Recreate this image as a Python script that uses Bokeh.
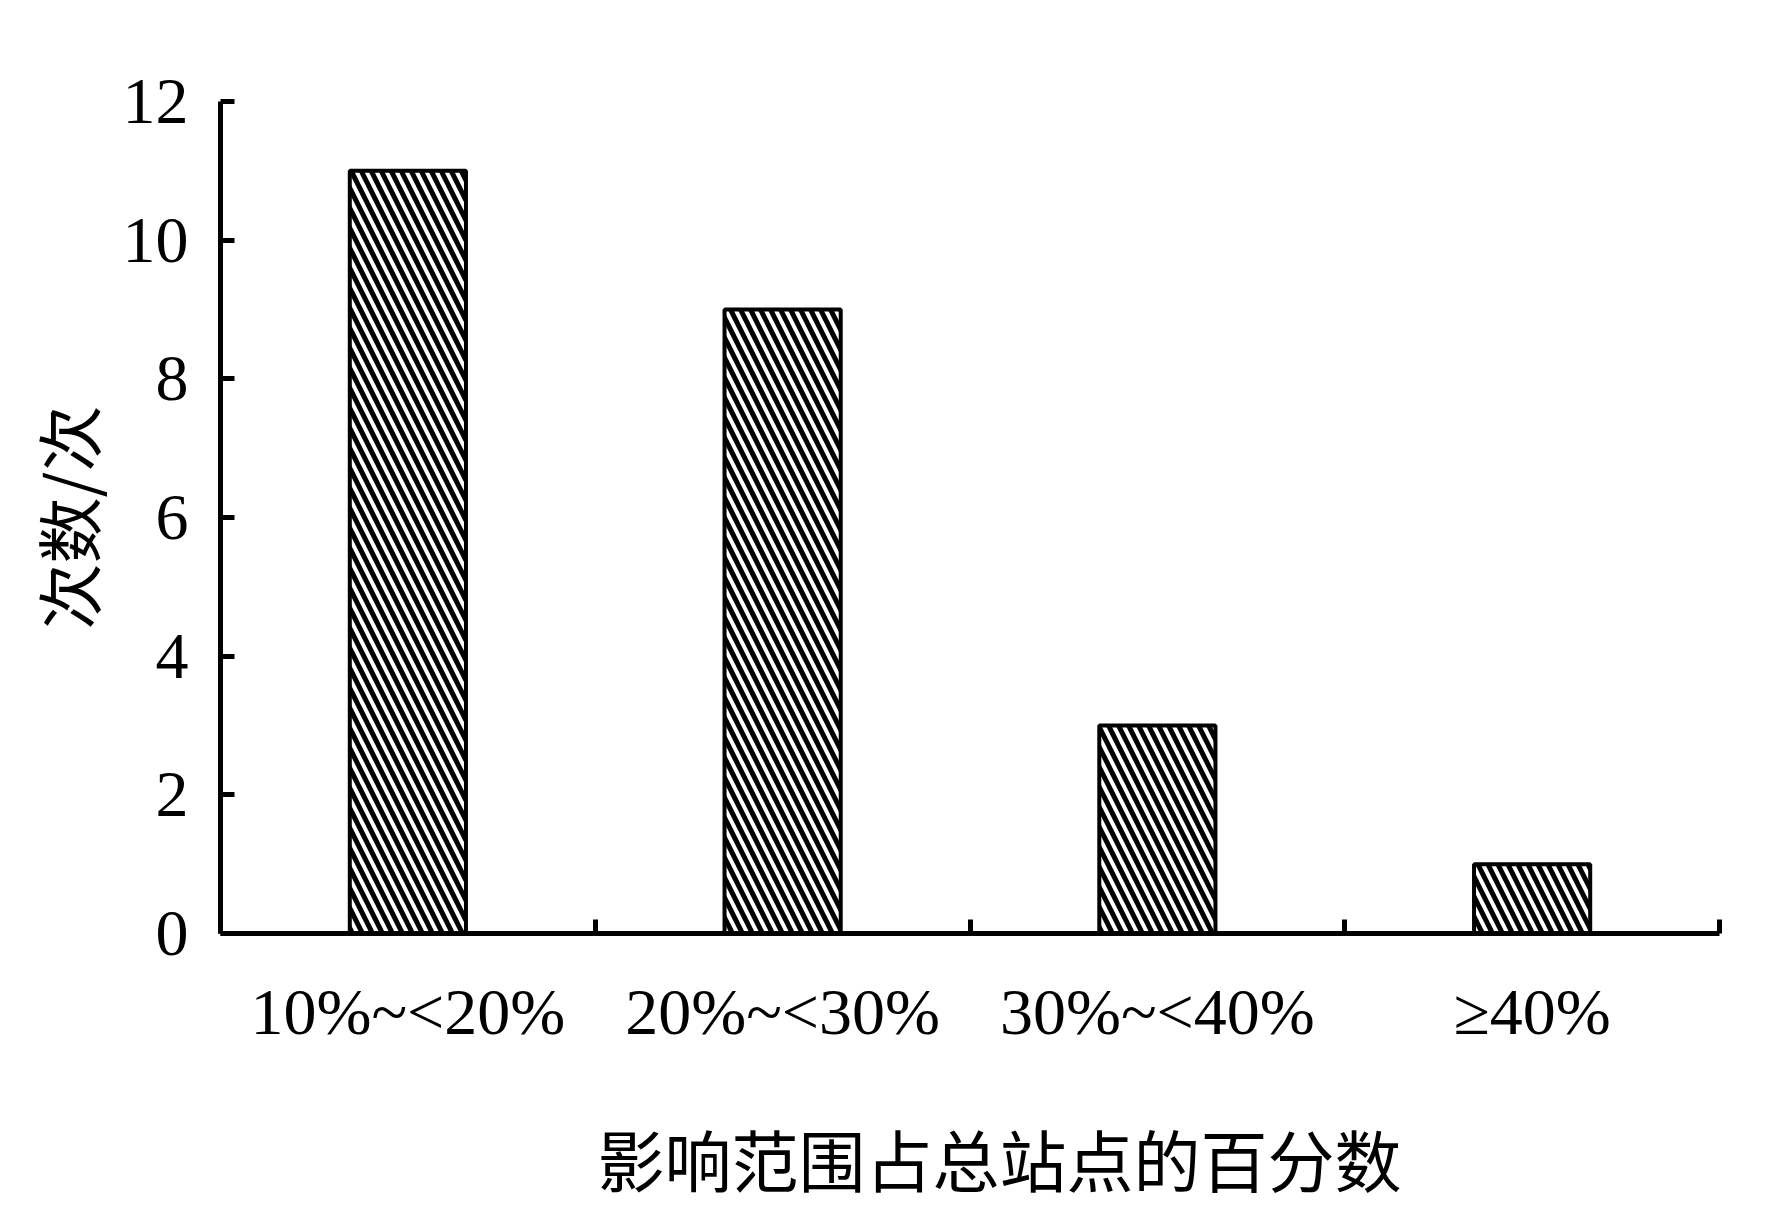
from bokeh.plotting import figure
from bokeh.models import Range1d, FixedTicker, LinearAxis, Title
from bokeh.embed import file_html
from bokeh.resources import INLINE

categories = ["10%~<20%", "20%~<30%", "30%~<40%", "≥40%"]
counts = [11, 9, 3, 1]
y_ticks = [0, 2, 4, 6, 8, 10, 12]
x_title = "影响范围占总站点的百分数"
y_title = "次数/次"

x_centers = [i + 0.5 for i in range(len(categories))]
x_bounds = [i for i in range(len(categories) + 1)]
y_max = y_ticks[-1]
n_cat = len(categories)

p = figure(width=1756, height=1215, output_backend="svg", toolbar_location=None,
           x_range=Range1d(0, n_cat), y_range=Range1d(0, y_max),
           min_border_left=220, min_border_top=101, min_border_right=37, min_border_bottom=282)
p.outline_line_color = None
p.xgrid.visible = False
p.ygrid.visible = False
p.background_fill_color = "white"
p.border_fill_color = "white"

p.vbar(x=x_centers, top=counts, width=0.31, bottom=0,
       fill_color="white", line_color="black", line_width=4,
       hatch_pattern="\\", hatch_color="black", hatch_scale=20, hatch_weight=5)

serif = "Liberation Serif"
cjk = "Noto Sans CJK SC"

xa = p.xaxis[0]
xa.ticker = FixedTicker(ticks=x_centers, minor_ticks=x_bounds)
xa.major_label_overrides = {c: lab for c, lab in zip(x_centers, categories)}
xa.major_tick_line_color = None
xa.minor_tick_in = 14
xa.minor_tick_out = 0
xa.minor_tick_line_width = 5
xa.minor_tick_line_color = "black"
xa.axis_line_width = 5
xa.axis_line_color = "black"
xa.major_label_text_font = serif
xa.major_label_text_font_size = "66px"
xa.major_label_text_color = "black"
xa.major_label_standoff = 35

ya = p.yaxis[0]
ya.ticker = FixedTicker(ticks=y_ticks)
ya.major_tick_in = 14
ya.major_tick_out = 0
ya.major_tick_line_width = 5
ya.minor_tick_line_color = None
ya.axis_line_width = 5
ya.major_label_text_font = serif
ya.major_label_text_font_size = "66px"
ya.major_label_text_color = "black"
ya.major_label_standoff = 32
ya.axis_label = y_title
ya.axis_label_text_font = cjk
ya.axis_label_text_font_size = "66px"
ya.axis_label_text_font_style = "normal"
ya.axis_label_text_color = "black"
ya.axis_label_standoff = 6

# white (invisible) spacer axis that opens the gap above the x title
mid = n_cat / 2
spacer = LinearAxis(ticker=FixedTicker(ticks=[mid]), axis_line_color=None,
                    major_tick_line_color="white", major_tick_line_width=1,
                    minor_tick_line_color=None,
                    major_tick_out=56, major_tick_in=0, minor_tick_out=0, minor_tick_in=0,
                    major_label_standoff=0, major_label_overrides={mid: ""},
                    major_label_text_font_size="1px", major_label_text_color="white")
p.add_layout(spacer, "below")

p.add_layout(Title(text=x_title, align="left", offset=377, standoff=0,
                   text_font=cjk, text_font_size="67px", text_font_style="normal",
                   text_color="black"), "below")

open("out.html", "w").write(file_html(p, INLINE))
